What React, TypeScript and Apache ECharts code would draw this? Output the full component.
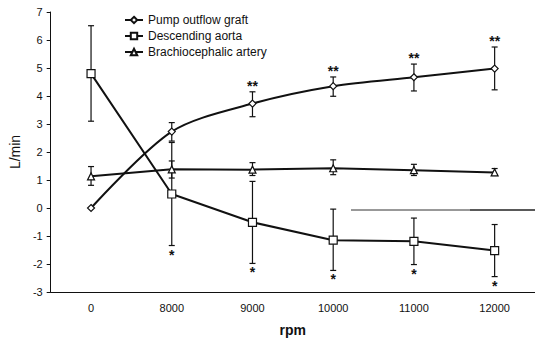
import React, { useEffect, useRef } from "react";
import * as echarts from "echarts";

const categories = ["0", "8000", "9000", "10000", "11000", "12000"];

const pumpMean = [0, 2.73, 3.73, 4.35, 4.67, 4.98];
const pumpLow = [0, 2.39, 3.26, 3.99, 4.18, 4.22];
const pumpHigh = [0, 3.05, 4.15, 4.68, 5.14, 5.75];
const pumpSig = ["", "", "**", "**", "**", "**"];

const aortaMean = [4.8, 0.5, -0.51, -1.15, -1.19, -1.52];
const aortaLow = [3.1, -1.34, -1.98, -2.23, -2.02, -2.45];
const aortaHigh = [6.51, 2.34, 0.95, -0.04, -0.36, -0.59];
const aortaSig = ["", "*", "*", "*", "*", "*"];

const brachMean = [1.13, 1.38, 1.37, 1.42, 1.35, 1.27];
const brachLow = [0.81, 1.07, 1.16, 1.19, 1.16, 1.16];
const brachHigh = [1.48, 1.68, 1.62, 1.72, 1.56, 1.41];

const yTicks = { min: -3, max: 7, interval: 1 };

const FONT = "Liberation Sans, Arial, sans-serif";
const INK = "#111";

function errorSeries(name: string, low: number[], high: number[], sig: string[], sigPos: "top" | "bottom") {
  const data = categories.map((_, i) => [i, low[i], high[i], i]);
  return {
    type: "custom",
    name: name + "-err",
    z: 1,
    silent: true,
    data,
    renderItem: (params: any, api: any) => {
      const x = api.value(0);
      const lo = api.value(1);
      const hi = api.value(2);
      const idx = api.value(3);
      if (lo === hi) return { type: "group", children: [] };
      const pHi = api.coord([x, hi]);
      const pLo = api.coord([x, lo]);
      const hw = 3;
      const st = { stroke: INK, lineWidth: 1.2 };
      const children: any[] = [
        { type: "line", shape: { x1: pHi[0], y1: pHi[1], x2: pLo[0], y2: pLo[1] }, style: st },
        { type: "line", shape: { x1: pHi[0] - hw, y1: pHi[1], x2: pHi[0] + hw, y2: pHi[1] }, style: st },
        { type: "line", shape: { x1: pLo[0] - hw, y1: pLo[1], x2: pLo[0] + hw, y2: pLo[1] }, style: st },
      ];
      const s = sig[idx];
      if (s) {
        children.push({
          type: "text",
          x: pHi[0],
          y: sigPos === "top" ? pHi[1] + 1 : pLo[1] + 2,
          style: {
            text: s,
            fill: INK,
            font: "bold 14px " + FONT,
            align: "center",
            verticalAlign: sigPos === "top" ? "bottom" : "top",
          },
        });
      }
      return { type: "group", children };
    },
  };
}

export default function App() {
  const ref = useRef<HTMLDivElement>(null);
  useEffect(() => {
    if (!ref.current) return;
    const chart = echarts.init(ref.current, null, { renderer: "svg" });
    const lineCommon = {
      type: "line",
      z: 3,
      lineStyle: { color: INK, width: 2 },
      itemStyle: { color: "#fff", borderColor: INK, borderWidth: 1.2 },
      emphasis: { disabled: true },
    };
    chart.setOption({
      animation: false,
      backgroundColor: "#fff",
      textStyle: { fontFamily: FONT, color: INK },
      grid: { left: 50, top: 12, width: 486, bottom: 44 },
      legend: {
        orient: "vertical",
        left: 119,
        top: 9,
        itemWidth: 18,
        itemHeight: 8,
        itemGap: 4,
        textStyle: { fontFamily: FONT, fontSize: 12, color: INK },
        data: ["Pump outflow graft", "Descending aorta", "Brachiocephalic artery"],
      },
      xAxis: {
        type: "category",
        data: categories,
        boundaryGap: true,
        axisLine: { onZero: false, lineStyle: { color: INK, width: 1 } },
        axisTick: { alignWithLabel: true, length: 4, lineStyle: { color: INK } },
        axisLabel: { fontFamily: FONT, fontSize: 11, color: INK, margin: 10 },
        name: "rpm",
        nameLocation: "middle",
        nameGap: 31,
        nameTextStyle: { fontFamily: FONT, fontSize: 14, fontWeight: "bold", color: INK },
      },
      yAxis: {
        type: "value",
        min: yTicks.min,
        max: yTicks.max,
        interval: yTicks.interval,
        splitLine: { show: false },
        axisLine: { show: true, lineStyle: { color: INK, width: 1 } },
        axisTick: { show: true, length: 4, lineStyle: { color: INK } },
        axisLabel: { fontFamily: FONT, fontSize: 11, color: INK, margin: 8 },
        name: "L/min",
        nameLocation: "middle",
        nameRotate: 90,
        nameGap: 21,
        nameTextStyle: { fontFamily: FONT, fontSize: 14, color: INK },
      },
      graphic: [
        { type: "line", shape: { x1: 351, y1: 210, x2: 470, y2: 210 }, style: { stroke: "#333", lineWidth: 1 }, silent: true },
        { type: "line", shape: { x1: 470, y1: 210, x2: 535, y2: 210 }, style: { stroke: "#222", lineWidth: 1.6 }, silent: true },
      ],
      series: [
        errorSeries("Pump", pumpLow, pumpHigh, pumpSig, "top"),
        errorSeries("Aorta", aortaLow, aortaHigh, aortaSig, "bottom"),
        errorSeries("Brach", brachLow, brachHigh, brachLow.map(() => ""), "top"),
        { ...lineCommon, name: "Pump outflow graft", data: pumpMean, smooth: 0.3, symbol: "diamond", symbolSize: 7 },
        { ...lineCommon, name: "Descending aorta", data: aortaMean, symbol: "rect", symbolSize: 8 },
        { ...lineCommon, name: "Brachiocephalic artery", data: brachMean, symbol: "triangle", symbolSize: 7 },
      ],
    });
    return () => chart.dispose();
  }, []);
  return <div ref={ref} style={{ width: 535, height: 342, position: "absolute", left: 0, top: 0 }} />;
}
